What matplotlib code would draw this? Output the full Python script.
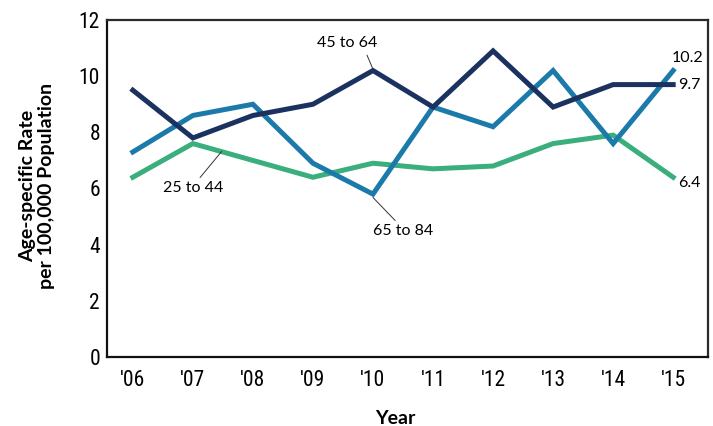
import matplotlib
matplotlib.use("Agg")
import matplotlib.pyplot as plt

years = ["'06", "'07", "'08", "'09", "'10", "'11", "'12", "'13", "'14", "'15"]
age_45_64 = [9.5, 7.8, 8.6, 9.0, 10.2, 8.9, 10.9, 8.9, 9.7, 9.7]
age_65_84 = [7.3, 8.6, 9.0, 6.9, 5.8, 8.9, 8.2, 10.2, 7.6, 10.2]
age_25_44 = [6.4, 7.6, 7.0, 6.4, 6.9, 6.7, 6.8, 7.6, 7.9, 6.4]
yticks = [0, 2, 4, 6, 8, 10, 12]

c_navy = "#1b3260"
c_blue = "#1b7aaa"
c_green = "#3aae7c"

tick_font = ['Roboto Condensed', 'Lato', 'DejaVu Sans']
ann_font = ['Lato', 'DejaVu Sans']
lab_font = ['Lato', 'DejaVu Sans']
plt.rcParams['font.family'] = tick_font

fig = plt.figure(figsize=(7.13, 4.26), dpi=100)
ax = fig.add_axes([107/713, 1-357/426, (708-107)/713, (357-20)/426])
x = list(range(len(years)))

ax.plot(x, age_65_84, color=c_blue, lw=3.6, solid_joinstyle='miter', zorder=3)
ax.plot(x, age_25_44, color=c_green, lw=3.6, solid_joinstyle='miter', zorder=2)
ax.plot(x, age_45_64, color=c_navy, lw=3.6, solid_joinstyle='miter', zorder=4)

ax.set_xlim(-0.43, 9.58)
ax.set_ylim(0, 12)
ax.set_yticks(yticks)
ax.set_yticklabels([str(v) for v in yticks], fontsize=15.5, family=tick_font)
ax.set_xticks(x)
ax.set_xticklabels(years, fontsize=15.5, family=tick_font)
ax.tick_params(axis='x', length=0, pad=9)
ax.tick_params(axis='y', length=0, pad=5)
for s in ax.spines.values():
    s.set_linewidth(1.6)
    s.set_color("#2a2a2a")
ax.spines['left'].set_color("#111111")
ax.spines['bottom'].set_color("#111111")

fig.text(395/713, 1-418/426, "Year", fontsize=14, fontweight='bold', family=lab_font,
         ha='center', va='center')
fig.text(28/713, 1-186/426, "Age-specific Rate", fontsize=14, fontweight='bold',
         family=lab_font, rotation=90, ha='center', va='center')
fig.text(47/713, 1-186/426, "per 100,000 Population", fontsize=14, fontweight='bold',
         family=lab_font, rotation=90, ha='center', va='center')

lp = dict(arrowstyle='-', color='#333333', lw=0.7, shrinkA=0, shrinkB=0)
# 45 to 64
ax.text(3.57, 11.18, "45 to 64", fontsize=11.5, family=ann_font, ha='center', va='center')
ax.annotate("", xy=(3.99, 10.3), xytext=(3.9, 10.75), arrowprops=lp)
# 25 to 44
ax.text(1.0, 6.0, "25 to 44", fontsize=11.5, family=ann_font, ha='center', va='center')
ax.annotate("", xy=(1.48, 7.32), xytext=(1.12, 6.39), arrowprops=lp)
# 65 to 84
ax.text(4.5, 4.5, "65 to 84", fontsize=11.5, family=ann_font, ha='center', va='center')
ax.annotate("", xy=(4.37, 4.86), xytext=(4.0, 5.68), arrowprops=lp)

ax.text(8.98, 10.64, f"{age_65_84[-1]:.1f}", fontsize=11.5, family=ann_font, ha='left', va='center')
ax.text(9.08, 9.68, f"{age_45_64[-1]:.1f}", fontsize=11.5, family=ann_font, ha='left', va='center')
ax.text(9.08, 6.18, f"{age_25_44[-1]:.1f}", fontsize=11.5, family=ann_font, ha='left', va='center')

fig.savefig("out.png", dpi=100)
